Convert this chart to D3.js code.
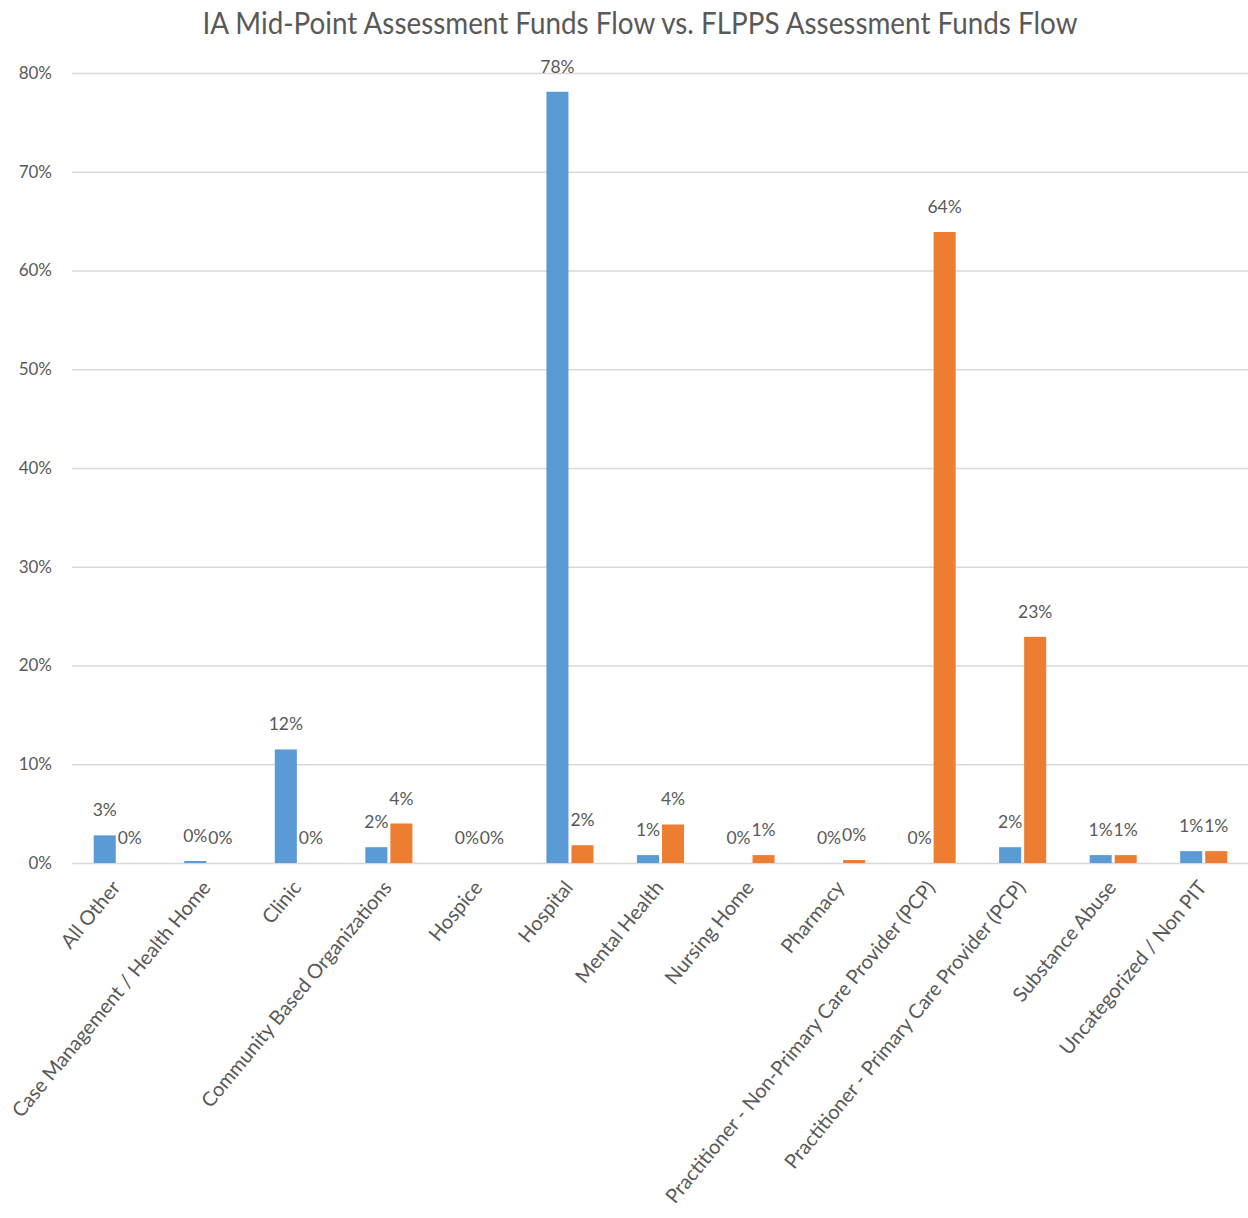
<!DOCTYPE html>
<html>
<head>
<meta charset="utf-8">
<script src="https://cdn.jsdelivr.net/npm/d3@7"></script>
<style>
  body { margin: 0; background: #fff; }
  text { font-family: Lato, "Open Sans", sans-serif; fill: #595959; }
</style>
</head>
<body>
<script>
(function(){
'use strict';

var categories = ['All Other', 'Case Management / Health Home', 'Clinic', 'Community Based Organizations',
  'Hospice', 'Hospital', 'Mental Health', 'Nursing Home', 'Pharmacy',
  'Practitioner - Non-Primary Care Provider (PCP)', 'Practitioner - Primary Care Provider (PCP)',
  'Substance Abuse', 'Uncategorized / Non PIT'];
var iaValues =    [2.8, 0.2, 11.5, 1.6, 0, 78.1, 0.8, 0,   0,   0,    1.6,  0.8, 1.2];
var flppsValues = [0,   0,   0,    4.0, 0, 1.8,  3.9, 0.8, 0.3, 63.9, 22.9, 0.8, 1.2];
var yTicks = [0, 10, 20, 30, 40, 50, 60, 70, 80];
var title = 'IA Mid-Point Assessment Funds Flow vs. FLPPS Assessment Funds Flow';

var width = 1248, height = 1218;
var margin = {top: 73, right: 0, bottom: 355, left: 72};
var colors = ['#5b9bd5', '#ed7d31'];

var svg = d3.select('body').append('svg')
  .attr('width', width)
  .attr('height', height);

var x = d3.scaleBand()
  .domain(categories)
  .range([margin.left, 1249])
  .paddingInner(0.48)
  .paddingOuter(0.24);

var xSub = d3.scaleBand()
  .domain([0, 1])
  .range([0, x.bandwidth()])
  .paddingInner(0.12);

var y = d3.scaleLinear()
  .domain([0, 80])
  .range([height - margin.bottom, margin.top]);

// title
svg.append('text')
  .attr('x', 640)
  .attr('y', 34)
  .attr('text-anchor', 'middle')
  .attr('textLength', 875)
  .attr('lengthAdjust', 'spacingAndGlyphs')
  .style('font-size', '31px')
  .text(title);

// grid + y labels
var yAxis = d3.axisLeft(y)
  .tickValues(yTicks)
  .tickSize(-(1249 - margin.left))
  .tickPadding(20)
  .tickFormat(function(d){ return d + '%'; });

var yG = svg.append('g')
  .attr('transform', 'translate(' + margin.left + ',0)')
  .call(yAxis);
yG.select('.domain').remove();
yG.selectAll('.tick line').attr('stroke', '#d9d9d9').attr('stroke-width', 1.5);
yG.selectAll('.tick text')
  .style('font-size', '17px')
  .style('font-family', 'Lato, sans-serif')
  .attr('fill', '#595959');

// bars
var series = [iaValues, flppsValues];
var groups = svg.selectAll('g.series')
  .data(series)
  .enter().append('g')
  .attr('class', 'series')
  .attr('fill', function(d, i){ return colors[i]; });

groups.each(function(vals, si){
  var g = d3.select(this);
  g.selectAll('rect')
    .data(vals)
    .enter().append('rect')
    .attr('x', function(d, i){ return x(categories[i]) + xSub(si); })
    .attr('y', function(d){ return y(d); })
    .attr('width', xSub.bandwidth())
    .attr('height', function(d){ return y(0) - y(d); });

  g.selectAll('text.lbl')
    .data(vals)
    .enter().append('text')
    .attr('class', 'lbl')
    .attr('x', function(d, i){ return x(categories[i]) + xSub(si) + xSub.bandwidth() / 2; })
    .attr('y', function(d){ return y(d) - 19; })
    .attr('text-anchor', 'middle')
    .style('font-size', '17.5px')
    .text(function(d){ return Math.round(d) + '%'; });
});

// category labels
var xAxisG = svg.append('g');
xAxisG.selectAll('text')
  .data(categories)
  .enter().append('text')
  .attr('transform', function(d){
    var cx = x(d) + x.bandwidth() / 2 + 4;
    return 'translate(' + cx + ',' + (y(0) + 25) + ') rotate(-50.5)';
  })
  .attr('text-anchor', 'end')
  .style('font-size', '20px')
  .text(function(d){ return d; });

})();
</script>
</body>
</html>
